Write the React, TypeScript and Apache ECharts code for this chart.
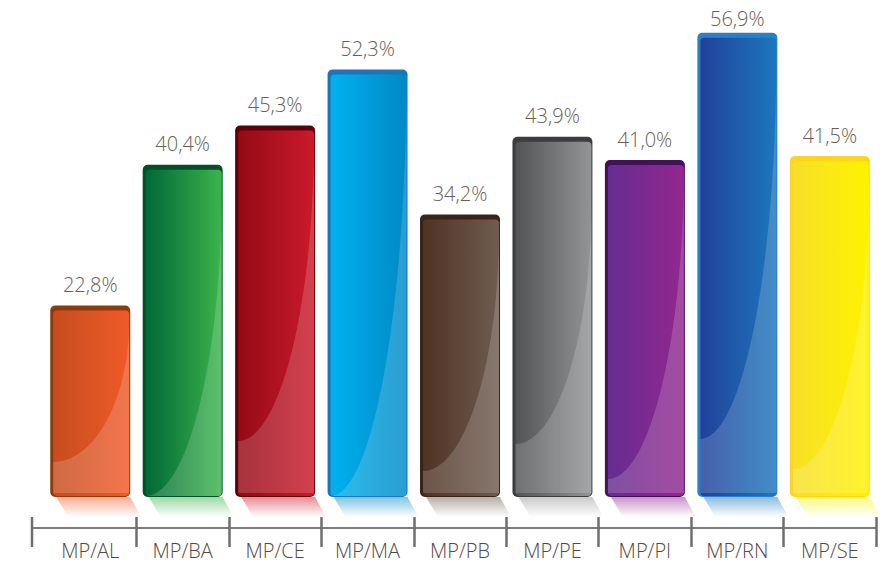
import React, { useEffect, useRef } from "react";
import * as echarts from "echarts";

const categories = ["MP/AL", "MP/BA", "MP/CE", "MP/MA", "MP/PB", "MP/PE", "MP/PI", "MP/RN", "MP/SE"];
const values = [22.8, 40.4, 45.3, 52.3, 34.2, 43.9, 41.0, 56.9, 41.5];

// styles (left colour, right colour, top lip colour)
const leftColors = ["#c64d1e", "#006837", "#940a16", "#00b2ee", "#4e3324", "#535456", "#652d90", "#22409a", "#f7df2a"];
const rightColors = ["#f05a28", "#3cb44b", "#cb1a2c", "#0089c6", "#6f5c50", "#939496", "#93278f", "#1c77bd", "#fff200"];
const lipColors = ["#8e3a0b", "#00502a", "#5c0008", "#1b75bb", "#3a2416", "#3d3d3f", "#44105a", "#2a80c8", "#ffd41c"];
const glossStart = [10, 20, 5, 0, 10, 60, 0, 20, 20];
const glossEnd = [34, 0, 55, 0, 25, 52, 17, 57, 27];

const FONT = "'Open Sans', 'DejaVu Sans', sans-serif";

export default function App() {
  const ref = useRef<HTMLDivElement>(null);
  useEffect(() => {
    if (!ref.current) return;
    const chart = echarts.init(ref.current, null, { renderer: "svg" });
    const data = values.map((v, i) => [i, v]);

    const renderItem = (params: any, api: any) => {
      const i = api.value(0);
      const v = api.value(1);
      const top = api.coord([i, v]);
      const zero = api.coord([i, 0]);
      const bw = api.size([1, 0])[0] * 0.865;
      const x = top[0] - bw / 2;
      const yTop = top[1];
      const yBot = zero[1] + 9;
      const fx = x + 3;
      const fy = yTop + 5;
      const fw = bw - 4;
      const fh = yBot - 1 - fy;
      const T = fy + glossStart[i];
      const E = fy + fh - glossEnd[i];
      const H = E - T;
      const bottomY = fy + fh - 3;
      const glossPath =
        `M${fx + fw} ${T} C${fx + fw} ${T + 0.552 * H} ${fx + 0.552 * fw} ${E} ${fx} ${E} ` +
        `L${fx} ${Math.max(E, bottomY)} L${fx + fw} ${Math.max(E, bottomY)} Z`;
      const rh = 20;
      return {
        type: "group",
        children: [
          {
            type: "polygon",
            shape: {
              points: [
                [x + 6, yBot],
                [x + bw, yBot],
                [x + bw + 11, yBot + rh],
                [x + 18, yBot + rh],
              ],
            },
            style: {
              fill: new echarts.graphic.LinearGradient(0, 0, 0, 1, [
                { offset: 0, color: echarts.color.modifyAlpha(rightColors[i], 0.5) },
                { offset: 1, color: echarts.color.modifyAlpha(rightColors[i], 0) },
              ]),
            },
          },
          {
            type: "rect",
            shape: { x, y: yTop, width: bw, height: yBot - yTop, r: 5 },
            style: { fill: lipColors[i] },
          },
          {
            type: "rect",
            shape: { x: fx, y: fy, width: fw, height: fh, r: 4 },
            style: {
              fill: new echarts.graphic.LinearGradient(0, 0, 1, 0, [
                { offset: 0, color: leftColors[i] },
                { offset: 1, color: rightColors[i] },
              ]),
            },
          },
          {
            type: "path",
            shape: { pathData: glossPath },
            style: { fill: "rgba(255,255,255,0.17)" },
          },
          {
            type: "text",
            x: top[0],
            y: Math.max(yTop - 11, 28),
            style: {
              text: v.toFixed(1).replace(".", ",") + "%",
              fill: "#685e55",
              fontSize: 20,
              fontWeight: 300,
              fontFamily: FONT,
              align: "center",
              verticalAlign: "bottom",
            },
          },
        ],
      };
    };

    const tickInterval = (idx: number) => idx !== 0;

    chart.setOption({
      animation: false,
      backgroundColor: "#ffffff",
      grid: { left: 44, right: 12, top: 8, bottom: 36 },
      xAxis: [
        {
          type: "category",
          data: categories,
          position: "bottom",
          axisLine: { show: true, onZero: false, lineStyle: { color: "#7d7d7d", width: 2 } },
          axisTick: { show: true, length: 19, interval: tickInterval, lineStyle: { color: "#6f6f6f", width: 2.5 } },
          axisLabel: { color: "#54493f", fontSize: 20, fontWeight: 300, fontFamily: FONT, margin: 12 },
        },
        {
          type: "category",
          data: categories,
          position: "bottom",
          axisLine: { show: false, onZero: false },
          axisTick: { show: true, inside: true, length: 11, interval: tickInterval, lineStyle: { color: "#6f6f6f", width: 2.5 } },
          axisLabel: { show: false },
        },
      ],
      yAxis: { type: "value", min: -5, max: 60, show: false, splitLine: { show: false } },
      graphic: [
        { type: "line", shape: { x1: 31, y1: 528, x2: 45, y2: 528 }, style: { stroke: "#7d7d7d", lineWidth: 2 } },
        { type: "line", shape: { x1: 32, y1: 517, x2: 32, y2: 547 }, style: { stroke: "#6f6f6f", lineWidth: 2.5 } },
      ],
      series: [
        {
          type: "custom",
          xAxisIndex: 0,
          renderItem,
          encode: { x: 0, y: 1 },
          data,
          clip: false,
        },
      ],
    });
    return () => chart.dispose();
  }, []);
  return <div ref={ref} style={{ position: "fixed", left: 0, top: 0, width: 888, height: 564 }} />;
}
